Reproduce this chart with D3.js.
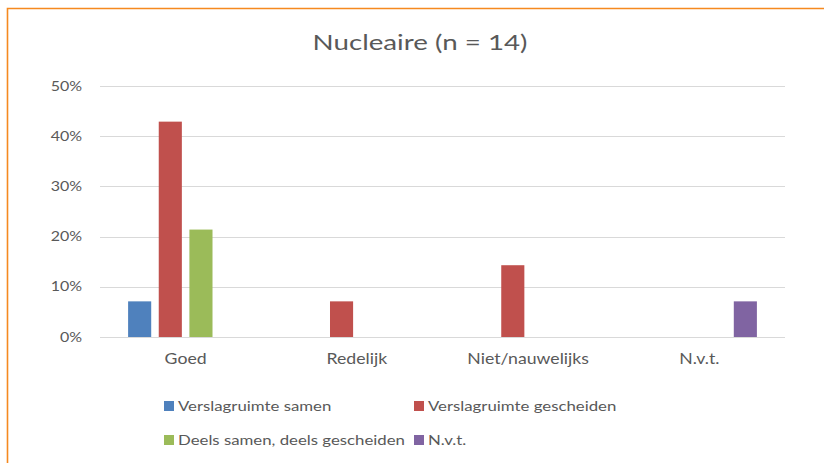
<!DOCTYPE html>
<html>
<head>
<meta charset="utf-8">
<script src="https://cdn.jsdelivr.net/npm/d3@7"></script>
<style>
  body { margin: 0; background: #fff; }
  text { font-family: Lato, "Open Sans", sans-serif; fill: #595959; }
</style>
</head>
<body>
<svg width="824" height="463"></svg>
<script>
var categories = ["Goed", "Redelijk", "Niet/nauwelijks", "N.v.t."];
var series = ["Verslagruimte samen", "Verslagruimte gescheiden", "Deels samen, deels gescheiden", "N.v.t."];
// percentages per series, in category order
var samen      = [7.1, 0, 0, 0];
var gescheiden = [42.9, 7.1, 14.3, 0];
var deels      = [21.4, 0, 0, 0];
var nvt        = [0, 0, 0, 7.1];
var yTicks = [0, 10, 20, 30, 40, 50];
var colors = ["#4f81bd", "#c0504d", "#9bbb59", "#8064a2"];

var values = [samen, gescheiden, deels, nvt];

var svg = d3.select("svg");

// orange frame
svg.append("path")
    .attr("d", "M7.5,463 V8.5 H824")
    .attr("fill", "none")
    .attr("stroke", "#f5891f")
    .attr("stroke-width", 1.6);

// the source picture is stretched sideways, so text gets a horizontal scale
svg.append("text")
    .attr("transform", "translate(420,50) scale(1.26,1)")
    .attr("text-anchor", "middle")
    .style("font-size", "22px")
    .text("Nucleaire (n = 14)");

var x0 = d3.scaleBand().domain(categories).range([100, 785]);
var x1 = d3.scaleBand().domain(series)
    .range([28.1, x0.bandwidth() - 28.1])
    .paddingInner(0.246);
var y = d3.scaleLinear().domain([0, 50]).range([337, 86]);

// gridlines
svg.append("g").selectAll("line")
    .data(yTicks)
    .enter().append("line")
      .attr("x1", 100).attr("x2", 785)
      .attr("y1", function(d) { return Math.round(y(d)) + 0.5; })
      .attr("y2", function(d) { return Math.round(y(d)) + 0.5; })
      .attr("stroke", "#d9d9d9")
      .attr("stroke-width", 1);

var yAxis = svg.append("g")
    .attr("transform", "translate(82,0)")
    .call(d3.axisLeft(y).tickValues(yTicks).tickSize(0).tickPadding(0)
      .tickFormat(function(d) { return d + "%"; }));
yAxis.select(".domain").remove();
yAxis.selectAll("text")
    .attr("transform", "scale(1.23,1)")
    .style("font-size", "13px").style("font-family", null).attr("fill", null);

var xAxis = svg.append("g")
    .attr("transform", "translate(0,337)")
    .call(d3.axisBottom(x0).tickSize(0).tickPadding(17));
xAxis.select(".domain").remove();
xAxis.selectAll("text")
    .attr("transform", "scale(1.22,1)")
    .style("font-size", "14.5px").style("font-family", null).attr("fill", null);

// bars
var groups = svg.append("g").selectAll("g")
    .data(categories)
    .enter().append("g")
      .attr("transform", function(d) { return "translate(" + x0(d) + ",0)"; });

groups.selectAll("rect")
    .data(function(c, ci) {
      return series.map(function(s, si) { return {s: s, si: si, v: values[si][ci]}; });
    })
    .enter().filter(function(d) { return d.v > 0; }).append("rect")
      .attr("x", function(d) { return x1(d.s); })
      .attr("width", x1.bandwidth())
      .attr("y", function(d) { return y(d.v); })
      .attr("height", function(d) { return y(0) - y(d.v); })
      .attr("fill", function(d) { return colors[d.si]; });

// legend
var legendPos = [[164, 406], [414, 406], [164, 440], [414, 440]];
var legend = svg.append("g").selectAll("g")
    .data(series)
    .enter().append("g")
      .attr("transform", function(d, i) { return "translate(" + legendPos[i][0] + "," + legendPos[i][1] + ")"; });

legend.append("rect")
    .attr("x", 0).attr("y", -5)
    .attr("width", 10).attr("height", 10)
    .attr("fill", function(d, i) { return colors[i]; });

legend.append("text")
    .attr("transform", "translate(14,0) scale(1.2,1)")
    .attr("dy", "0.35em")
    .style("font-size", "14px")
    .text(function(d) { return d; });
</script>
</body>
</html>
